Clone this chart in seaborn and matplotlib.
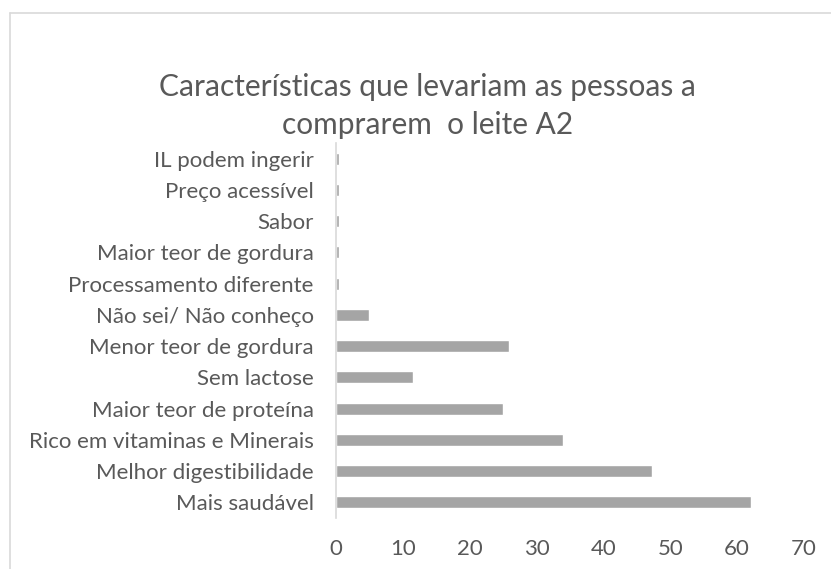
import matplotlib
matplotlib.use("Agg")
import matplotlib.pyplot as plt
import seaborn as sns
import pandas as pd
from matplotlib.lines import Line2D

# categorias de cima para baixo
categorias = [
    "IL podem ingerir",
    "Preço acessível",
    "Sabor",
    "Maior teor de gordura",
    "Processamento diferente",
    "Não sei/ Não conheço",
    "Menor teor de gordura",
    "Sem lactose",
    "Maior teor de proteína",
    "Rico em vitaminas e Minerais",
    "Melhor digestibilidade",
    "Mais saudável",
]
valores = [0.45, 0.45, 0.45, 0.45, 0.45, 4.9, 25.9, 11.5, 25.0, 33.9, 47.3, 62.0]
xticks = [0, 10, 20, 30, 40, 50, 60, 70]

titulo = "Características que levariam as pessoas a\ncomprarem  o leite A2"

sns.set_theme(style="white")
plt.rcParams["font.family"] = ["Lato", "DejaVu Sans"]

texto = "#595959"
cinza_linha = "#D9D9D9"

df = pd.DataFrame({"categoria": categorias, "valor": valores})

fig = plt.figure(figsize=(8.31, 5.69), dpi=100)
ax = fig.add_axes([0.4043, 0.0896, 0.5632, 0.6591])

sns.barplot(data=df, y="categoria", x="valor", order=categorias,
            color="#A5A5A5", saturation=1, width=0.38, ax=ax)

ax.set_xlim(0, 70)
ax.set_ylim(11.5, -0.5)
ax.set_xticks(xticks)
ax.set_xticklabels([str(t) for t in xticks])
ax.set_xlabel("")
ax.set_ylabel("")
ax.tick_params(axis="both", length=0, labelsize=16, colors=texto)
ax.tick_params(axis="x", pad=15)
ax.tick_params(axis="y", pad=16)

for s in ["top", "right", "bottom"]:
    ax.spines[s].set_visible(False)
ax.spines["left"].set_color(cinza_linha)
ax.spines["left"].set_linewidth(1.2)

fig.text(0.514, 0.814, titulo, ha="center", va="center", fontsize=21.5,
         color=texto, linespacing=1.45)

# moldura do gráfico (estilo Excel)
fig.add_artist(Line2D([10 / 831, 10 / 831], [0, 1 - 13 / 569],
                      transform=fig.transFigure, color=cinza_linha, lw=1.2))
fig.add_artist(Line2D([10 / 831, 1], [1 - 13 / 569, 1 - 13 / 569],
                      transform=fig.transFigure, color=cinza_linha, lw=1.2))

fig.savefig("out.png", dpi=100)
